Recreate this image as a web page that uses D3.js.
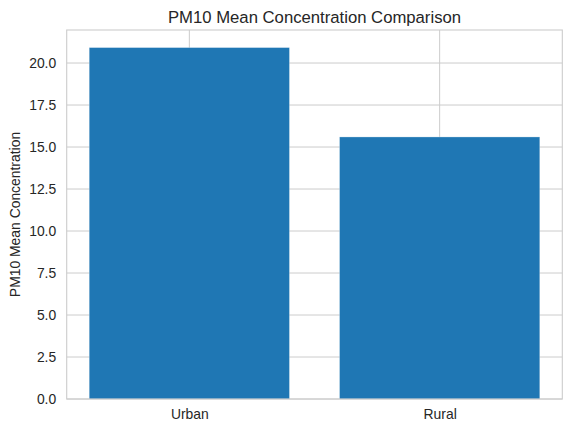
<!DOCTYPE html>
<html>
<head>
<meta charset="utf-8">
<script src="https://cdn.jsdelivr.net/npm/d3@7"></script>
<style>
  body { margin: 0; background: #fff; }
  text { font-family: "Liberation Sans", Arial, sans-serif; fill: #262626; }
</style>
</head>
<body>
<div id="chart-area"></div>
<script>
// data
const categories = ["Urban", "Rural"]
const values = [20.92, 15.60]
const yTicks = [0, 2.5, 5, 7.5, 10, 12.5, 15, 17.5, 20]

const MARGIN = { LEFT: 66.7, RIGHT: 9.7, TOP: 30, BOTTOM: 34 }
const WIDTH = 572 - MARGIN.LEFT - MARGIN.RIGHT
const HEIGHT = 433 - MARGIN.TOP - MARGIN.BOTTOM

const svg = d3.select("#chart-area").append("svg")
  .attr("width", 572)
  .attr("height", 433)

const g = svg.append("g")
  .attr("transform", `translate(${MARGIN.LEFT}, ${MARGIN.TOP})`)

// bars sit at integer positions, width 0.8, like matplotlib
const barWidth = 0.8
const x = d3.scaleLinear()
  .domain([-0.49, categories.length - 1 + 0.49])
  .range([0, WIDTH])

const y = d3.scaleLinear()
  .domain([0, d3.max(values) * 1.05])
  .range([HEIGHT, 0])

// grid
g.append("g").selectAll("line.h")
  .data(yTicks)
  .enter().append("line")
  .attr("x1", 0).attr("x2", WIDTH)
  .attr("y1", d => y(d)).attr("y2", d => y(d))
  .attr("stroke", "#cccccc").attr("stroke-width", 1)

g.append("g").selectAll("line.v")
  .data(categories)
  .enter().append("line")
  .attr("x1", (d, i) => x(i)).attr("x2", (d, i) => x(i))
  .attr("y1", 0).attr("y2", HEIGHT)
  .attr("stroke", "#cccccc").attr("stroke-width", 1)

// bars
g.selectAll("rect.bar")
  .data(values)
  .enter().append("rect")
  .attr("class", "bar")
  .attr("x", (d, i) => x(i - barWidth / 2))
  .attr("width", x(barWidth) - x(0))
  .attr("y", d => y(d))
  .attr("height", d => HEIGHT - y(d))
  .attr("fill", "#1f77b4")
  .attr("stroke", "#ffffff")
  .attr("stroke-opacity", 0.35)
  .attr("stroke-width", 0.8)

// frame
g.append("rect")
  .attr("x", 0).attr("y", 0)
  .attr("width", WIDTH).attr("height", HEIGHT)
  .attr("fill", "none")
  .attr("stroke", "#cccccc").attr("stroke-width", 1.1)

// y axis
const yAxis = g.append("g")
  .call(d3.axisLeft(y).tickValues(yTicks).tickSize(0).tickPadding(10.5).tickFormat(d3.format(".1f")))
yAxis.select(".domain").remove()
yAxis.selectAll("text")
  .attr("font-size", "13.9px")
  .attr("fill", "#262626")

// x axis
const xAxis = g.append("g")
  .attr("transform", `translate(0, ${HEIGHT})`)
  .call(d3.axisBottom(x).tickValues(d3.range(categories.length)).tickSize(0).tickPadding(10)
    .tickFormat(i => categories[i]))
xAxis.select(".domain").remove()
xAxis.selectAll("text")
  .attr("font-size", "13.9px")
  .attr("fill", "#262626")

// Y label
g.append("text")
  .attr("x", -(HEIGHT / 2))
  .attr("y", -MARGIN.LEFT + 20)
  .attr("font-size", "13.9px")
  .attr("text-anchor", "middle")
  .attr("transform", "rotate(-90)")
  .text("PM10 Mean Concentration")

// title
g.append("text")
  .attr("x", WIDTH / 2)
  .attr("y", -7)
  .attr("font-size", "16.7px")
  .attr("text-anchor", "middle")
  .text("PM10 Mean Concentration Comparison")
</script>
</body>
</html>
